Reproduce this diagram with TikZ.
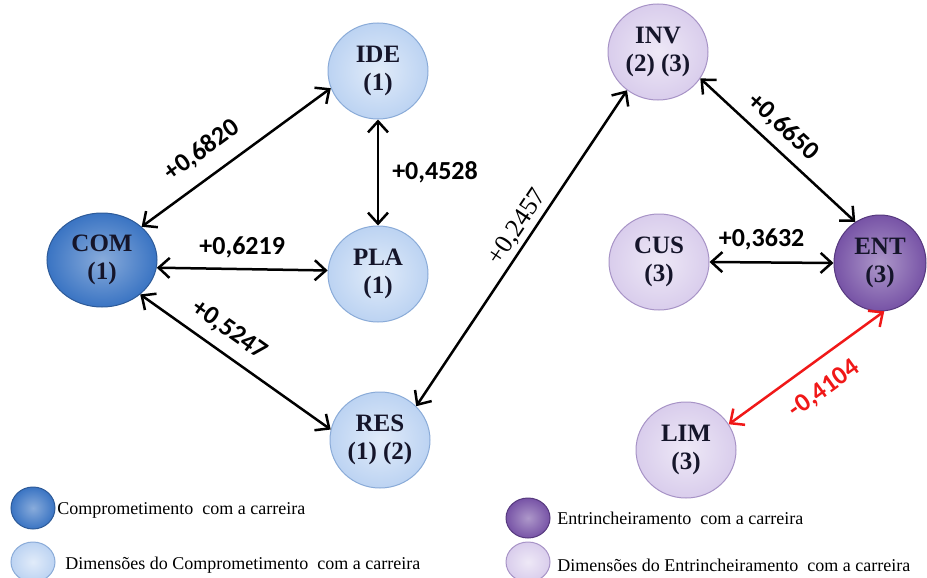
\documentclass[tikz,border=0pt]{standalone}
\usepackage{fontspec}
\setmainfont{Liberation Serif}
\newfontfamily\coeffont{Carlito}
\usetikzlibrary{shapes.geometric,arrows.meta}
\definecolor{comblue}{HTML}{3A74C3}
\definecolor{comline}{HTML}{2D5A98}
\definecolor{dimblue}{HTML}{BCD3F2}
\definecolor{dimblueline}{HTML}{8AABD8}
\definecolor{entpurple}{HTML}{7753A6}
\definecolor{entline}{HTML}{56397E}
\definecolor{dimpurple}{HTML}{D9CDEC}
\definecolor{dimpurpleline}{HTML}{A793C6}
\definecolor{labeltext}{HTML}{15152A}
\definecolor{negred}{HTML}{F01818}

\begin{document}
\begin{tikzpicture}[x=0.5pt,y=-0.5pt,
    bubble/.style={ellipse, line width=0.5pt, inner sep=0pt, align=center,
        minimum width=50pt, minimum height=48pt, text=labeltext,
        font=\fontsize{12.5}{14}\selectfont\bfseries},
    combubble/.style={bubble, draw=comline, inner color=comblue!60!white, outer color=comblue},
    dimcom/.style={bubble, draw=dimblueline, inner color=dimblue!45!white, outer color=dimblue},
    entbubble/.style={bubble, draw=entline, inner color=entpurple!60!white, outer color=entpurple},
    diment/.style={bubble, draw=dimpurpleline, inner color=dimpurple!45!white, outer color=dimpurple},
    link/.style={line width=1.25pt, {Straight Barb[length=5.5pt,width=10pt]}-{Straight Barb[length=5.5pt,width=10pt]}},
    coef/.style={inner sep=1pt, font=\coeffont\fontsize{13}{13}\selectfont\bfseries},
    serifcoef/.style={inner sep=1pt, font=\fontsize{13}{13}\selectfont},
    legend/.style={anchor=west, inner sep=0pt, font=\fontsize{9}{10}\selectfont}]
    \useasboundingbox (0,0) rectangle (927,578);

    % career commitment side
    \node[combubble, minimum width=55pt, minimum height=47pt] (COM) at (102,260) {COM\\(1)};
    \node[dimcom] (IDE) at (378,71) {IDE\\(1)};
    \node[dimcom] (PLA) at (378,274) {PLA\\(1)};
    \node[dimcom] (RES) at (380,440) {RES\\(1) (2)};

    % career entrenchment side
    \node[diment] (INV) at (658,52) {INV\\(2) (3)};
    \node[diment] (CUS) at (659,262) {CUS\\(3)};
    \node[entbubble, minimum width=46pt, minimum height=48pt] (ENT) at (880,263) {ENT\\(3)};
    \node[diment] (LIM) at (686,450) {LIM\\(3)};

    % correlations
    \draw[link] (COM.40) -- node[coef, pos=0.4, sloped, above=6pt] {+0,6820} (IDE.200);
    \draw[link] (IDE.south) -- node[coef, right=5.5pt] {+0,4528} (PLA.north);
    \draw[link] (COM.-8) -- node[coef, above=4pt] {+0,6219} (PLA.176);
    \draw[link] (COM.-42) -- node[coef, pos=0.4, sloped, above=4.4pt] {+0,5247} (RES.168);
    \draw[link] (RES.43) -- node[serifcoef, pos=0.54, sloped, above=0.5pt] {+0,2457} (INV.231);
    \draw[link] (INV.-32) -- node[coef, pos=0.444, sloped, above=3.4pt] {+0,6650} (ENT.121);
    \draw[link] (CUS.east) -- node[coef, pos=0.42, above=4.5pt] {+0,3632} (ENT.180);
    \draw[link, negred] (LIM.31) -- node[coef, text=negred, pos=0.51, sloped, below=7.2pt] {-0,4104} (ENT.-85);

    % legend
    \node[combubble, minimum width=22pt, minimum height=21pt] (keycom) at (33,508) {};
    \node[legend] (keycomtxt) at (57,510) {Comprometimento\ \ com a carreira};
    \node[dimcom, minimum width=22pt, minimum height=20pt] (keydimcom) at (33,562) {};
    \node[legend] (keydimcomtxt) at (65,565) {Dimensões do Comprometimento\ \ com a carreira};
    \node[entbubble, minimum width=22pt, minimum height=20pt] (keyent) at (528,518) {};
    \node[legend] (keyenttxt) at (557,518) {Entrincheiramento\ \ com a carreira};
    \node[diment, minimum width=22pt, minimum height=20pt] (keydiment) at (528,562) {};
    \node[legend] (keydimenttxt) at (557,565) {Dimensões do Entrincheiramento\ \ com a carreira};
\end{tikzpicture}
\end{document}
